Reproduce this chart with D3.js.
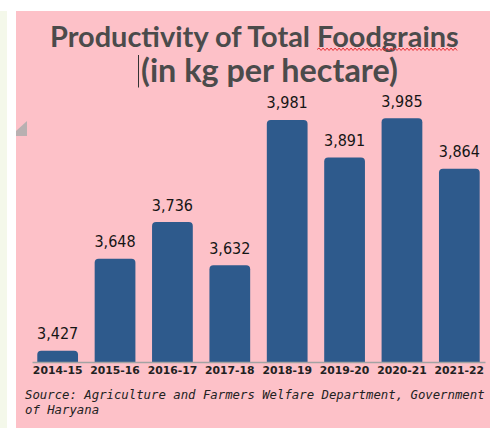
<!DOCTYPE html>
<html><head><meta charset="utf-8">
<script src="https://cdn.jsdelivr.net/npm/d3@7"></script>
<style>body{margin:0;background:#fff;} svg{display:block}</style>
</head><body><svg id="c" width="490" height="428"></svg>
<script>
const categories = ["2014-15","2015-16","2016-17","2017-18","2018-19","2019-20","2020-21","2021-22"];
const values = [3427, 3648, 3736, 3632, 3981, 3891, 3985, 3864];
const titleLines = ["Productivity of Total Foodgrains", "(in kg per hectare)"];
const sourceLines = ["Source: Agriculture and Farmers Welfare Department, Government", "of Haryana"];
const yDomain = [3400, 4000];

const svg = d3.select("#c");
const W = 490, H = 428;

// backgrounds
svg.append("rect").attr("x",0).attr("y",0).attr("width",W).attr("height",H).attr("fill","#ffffff");
svg.append("rect").attr("x",0).attr("y",11).attr("width",7).attr("height",H-11).attr("fill","#f4f8ea");
svg.append("rect").attr("x",16).attr("y",11).attr("width",W-16).attr("height",H-11).attr("fill","#fdc1c8");
svg.append("polygon").attr("points","16,131 27,121 27,136 16,136").attr("fill","#adadad").attr("opacity",0.85);

const x = d3.scaleBand().domain(categories).range([32, 485]).paddingInner(0.29).paddingOuter(0.092);
const y = d3.scaleLinear().domain(yDomain).range([362, 112]);

function fitText(sel, target) {
  const len = sel.node().getComputedTextLength();
  const fs = parseFloat(sel.attr("font-size"));
  sel.attr("font-size", fs * target / len);
}

// title
const t1 = svg.append("text").attr("x", 50).attr("y", 46.5)
  .attr("font-family","Lato").attr("font-weight",700).attr("font-size",27)
  .attr("fill","#4b4b4b").text(titleLines[0]);
fitText(t1, 409);
const t2 = svg.append("text").attr("x", 141).attr("y", 81.5)
  .attr("font-family","Lato").attr("font-weight",700).attr("font-size",27)
  .attr("fill","#4b4b4b").text(titleLines[1]);
fitText(t2, 257);

// cursor bar
svg.append("line").attr("x1",138.5).attr("x2",138.5).attr("y1",55).attr("y2",87.5)
  .attr("stroke","#333").attr("stroke-width",1);

// red squiggle under "Foodgrains"
{
  const s = titleLines[0];
  const i0 = s.indexOf("Foodgrains");
  const n = t1.node();
  const xa = n.getStartPositionOfChar(i0).x;
  const xb = n.getEndPositionOfChar(s.length - 1).x;
  const yb = 49.5;
  let d = `M${xa},${yb}`;
  let up = true;
  for (let xx = xa + 2; xx <= xb; xx += 2) { d += ` L${xx},${up ? yb - 1.5 : yb + 1}`; up = !up; }
  svg.append("path").attr("d", d).attr("fill","none").attr("stroke","#e8353a").attr("stroke-width",1);
}

// bars with rounded top corners
const r = 4;
const fmt = d3.format(",");
svg.append("g").selectAll("path").data(values).join("path")
  .attr("fill","#2e5a8c")
  .attr("d", (v, i) => {
    const x0 = x(categories[i]), w = x.bandwidth(), y0 = y(v), yb = y(yDomain[0]);
    return `M${x0},${yb} L${x0},${y0 + r} Q${x0},${y0} ${x0 + r},${y0} L${x0 + w - r},${y0} Q${x0 + w},${y0} ${x0 + w},${y0 + r} L${x0 + w},${yb} Z`;
  });

// value labels
svg.append("g").selectAll("text").data(values).join("text")
  .attr("x", (v, i) => x(categories[i]) + x.bandwidth() / 2)
  .attr("y", v => y(v) - 11.5)
  .attr("text-anchor","middle")
  .attr("font-family","DejaVu Sans Condensed, DejaVu Sans").attr("font-stretch","condensed")
  .attr("font-size",16).attr("fill","#151515")
  .text(v => fmt(v));

// x axis
const xAxis = svg.append("g").attr("transform", `translate(0,${y(yDomain[0])})`)
  .call(d3.axisBottom(x).tickSize(0).tickPadding(0));
xAxis.select(".domain").attr("stroke","#a3a3a3").attr("stroke-width",1.5);
xAxis.selectAll(".tick text").attr("dy", 0).attr("y", 11.5)
  .attr("font-family","DejaVu Sans").attr("font-weight","bold").attr("font-size",10.8).attr("fill","#222");

// source
sourceLines.forEach((s, i) => {
  const t = svg.append("text").attr("x", 25).attr("y", 399 + i * 15)
    .attr("font-family","DejaVu Sans Mono").attr("font-style","italic")
    .attr("font-size",12.3).attr("fill","#222").text(s);
  if (i === 0) fitText(t, 460);
});
</script>
</body></html>
